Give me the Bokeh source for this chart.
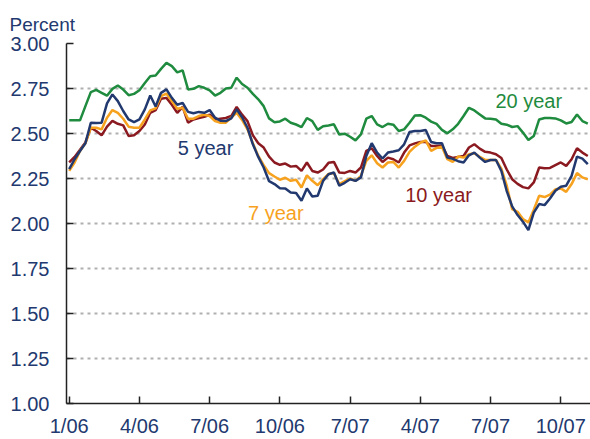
from bokeh.plotting import figure
from bokeh.models import FixedTicker, Range1d, Title, NumeralTickFormatter
from bokeh.core.properties import value
from bokeh.embed import file_html
from bokeh.resources import INLINE

# Weekly Treasury yields (percent), Jan 2006 - Dec 2007
five_year = [2.302, 2.357, 2.403, 2.446, 2.56, 2.558, 2.56, 2.667, 2.717, 2.68,
             2.625, 2.578, 2.563, 2.578, 2.634, 2.711, 2.65, 2.726, 2.745, 2.698,
             2.66, 2.67, 2.62, 2.613, 2.62, 2.615, 2.63, 2.588, 2.571, 2.569,
             2.584, 2.634, 2.59, 2.532, 2.44, 2.37, 2.311, 2.235, 2.219, 2.196,
             2.195, 2.172, 2.169, 2.126, 2.195, 2.15, 2.154, 2.237, 2.274, 2.283,
             2.21, 2.226, 2.246, 2.237, 2.256, 2.375, 2.446, 2.394, 2.361, 2.394,
             2.4, 2.407, 2.44, 2.508, 2.514, 2.514, 2.52, 2.453, 2.446, 2.446,
             2.366, 2.359, 2.346, 2.339, 2.379, 2.394, 2.366, 2.342, 2.353, 2.353,
             2.292, 2.18, 2.095, 2.047, 2.01, 1.963, 2.06, 2.108, 2.102, 2.139,
             2.182, 2.204, 2.21, 2.265, 2.372, 2.36, 2.33]
seven_year = [2.292, 2.339, 2.403, 2.446, 2.532, 2.532, 2.523, 2.588, 2.63, 2.615,
              2.582, 2.538, 2.532, 2.532, 2.578, 2.628, 2.64, 2.708, 2.722, 2.68,
              2.637, 2.643, 2.582, 2.582, 2.597, 2.604, 2.597, 2.569, 2.56, 2.56,
              2.588, 2.615, 2.575, 2.523, 2.446, 2.375, 2.324, 2.28, 2.261, 2.243,
              2.254, 2.237, 2.243, 2.2, 2.268, 2.237, 2.213, 2.246, 2.275, 2.28,
              2.219, 2.235, 2.25, 2.237, 2.265, 2.348, 2.379, 2.335, 2.311, 2.339,
              2.342, 2.311, 2.348, 2.398, 2.427, 2.449, 2.462, 2.403, 2.42, 2.427,
              2.357, 2.342, 2.372, 2.366, 2.385, 2.39, 2.37, 2.353, 2.353, 2.353,
              2.305, 2.21, 2.08, 2.065, 2.025, 2.006, 2.077, 2.154, 2.147, 2.16,
              2.19, 2.195, 2.176, 2.219, 2.28, 2.256, 2.245]
ten_year = [2.339, 2.37, 2.41, 2.45, 2.532, 2.514, 2.49, 2.538, 2.57, 2.554,
            2.545, 2.486, 2.49, 2.514, 2.55, 2.615, 2.63, 2.693, 2.698, 2.66,
            2.615, 2.648, 2.56, 2.578, 2.586, 2.593, 2.604, 2.578, 2.582, 2.586,
            2.597, 2.648, 2.605, 2.569, 2.49, 2.446, 2.422, 2.372, 2.339, 2.326,
            2.333, 2.316, 2.32, 2.292, 2.339, 2.292, 2.283, 2.3, 2.337, 2.342,
            2.283, 2.281, 2.292, 2.283, 2.311, 2.403, 2.418, 2.375, 2.342, 2.366,
            2.357, 2.339, 2.394, 2.434, 2.445, 2.453, 2.453, 2.43, 2.43, 2.434,
            2.375, 2.364, 2.37, 2.375, 2.422, 2.44, 2.416, 2.398, 2.394, 2.385,
            2.364, 2.3, 2.246, 2.22, 2.202, 2.195, 2.228, 2.311, 2.307, 2.309,
            2.324, 2.339, 2.32, 2.357, 2.418, 2.394, 2.375]
twenty_year = [2.573, 2.573, 2.573, 2.652, 2.73, 2.742, 2.726, 2.71, 2.748, 2.767,
               2.744, 2.713, 2.72, 2.74, 2.78, 2.818, 2.822, 2.859, 2.892, 2.874,
               2.84, 2.851, 2.745, 2.748, 2.763, 2.754, 2.74, 2.711, 2.726, 2.75,
               2.754, 2.81, 2.775, 2.754, 2.72, 2.69, 2.652, 2.584, 2.563, 2.567,
               2.582, 2.56, 2.55, 2.536, 2.586, 2.569, 2.52, 2.54, 2.545, 2.551,
               2.494, 2.499, 2.482, 2.462, 2.495, 2.582, 2.597, 2.551, 2.536, 2.554,
               2.549, 2.514, 2.523, 2.56, 2.6, 2.602, 2.588, 2.566, 2.553, 2.52,
               2.501, 2.523, 2.554, 2.597, 2.643, 2.628, 2.606, 2.584, 2.582, 2.578,
               2.554, 2.549, 2.536, 2.541, 2.505, 2.464, 2.486, 2.578, 2.586, 2.586,
               2.584, 2.573, 2.556, 2.564, 2.606, 2.569, 2.555]
weeks = list(range(len(five_year)))

tick_weeks = [0, 13, 26, 39, 52, 65, 78, 91]
tick_labels = ["1/06", "4/06", "7/06", "10/06", "7/07", "4/07", "7/07", "10/07"]
y_ticks = [1.00, 1.25, 1.50, 1.75, 2.00, 2.25, 2.50, 2.75, 3.00]

series_labels = ["5 year", "7 year", "10 year", "20 year"]
label_x = [20.1, 33.1, 62.2, 78.9]
label_y = [2.417, 2.056, 2.156, 2.678]

NAVY = "#22396f"
ORANGE = "#f7a21e"
RED = "#8a1a20"
GREEN = "#1f8b3e"
TEXT = "#22396f"
FONT = "Liberation Sans"

p = figure(width=590, height=439, output_backend="svg", toolbar_location=None,
           x_range=Range1d(-0.5, 96.5), y_range=Range1d(1.0, 3.0),
           min_border_left=66, min_border_right=0, min_border_top=43,
           min_border_bottom=36)
p.outline_line_color = None
p.background_fill_color = "white"
p.border_fill_color = "white"

p.title = Title(text="Percent", align="left", offset=-57, text_font=FONT,
                text_font_size="19px", text_font_style="normal",
                text_color=TEXT, standoff=18)

p.xgrid.grid_line_color = None
p.ygrid.ticker = FixedTicker(ticks=y_ticks)
p.ygrid.grid_line_color = "#b0b0b0"
p.ygrid.grid_line_width = 2
p.ygrid.grid_line_dash = "3 4"

p.yaxis.ticker = FixedTicker(ticks=y_ticks)
p.yaxis.formatter = NumeralTickFormatter(format="0.00")
p.xaxis.ticker = FixedTicker(ticks=tick_weeks)
p.xaxis.major_label_overrides = {w: l for w, l in zip(tick_weeks, tick_labels)}
for ax in (p.xaxis, p.yaxis):
    ax.axis_line_color = "#222222"
    ax.axis_line_width = 1.5
    ax.major_tick_line_color = "#222222"
    ax.major_tick_line_width = 1.5
    ax.major_tick_in = 7
    ax.major_tick_out = 0
    ax.minor_tick_line_color = None
    ax.major_label_text_font = FONT
    ax.major_label_text_font_size = "20px"
    ax.major_label_text_color = TEXT
p.yaxis.major_label_standoff = 17
p.xaxis.major_label_standoff = 11

for ys, c in [(twenty_year, GREEN), (ten_year, RED), (seven_year, ORANGE), (five_year, NAVY)]:
    p.line(weeks, ys, line_color=c, line_width=2.5)

for t, x, y, c in zip(series_labels, label_x, label_y, [NAVY, ORANGE, RED, GREEN]):
    p.text(x=[x], y=[y], text=[t], text_color=c, text_font=value(FONT),
           text_font_size="20px", text_align="left", text_baseline="middle")

open("out.html", "w").write(file_html(p, INLINE))
